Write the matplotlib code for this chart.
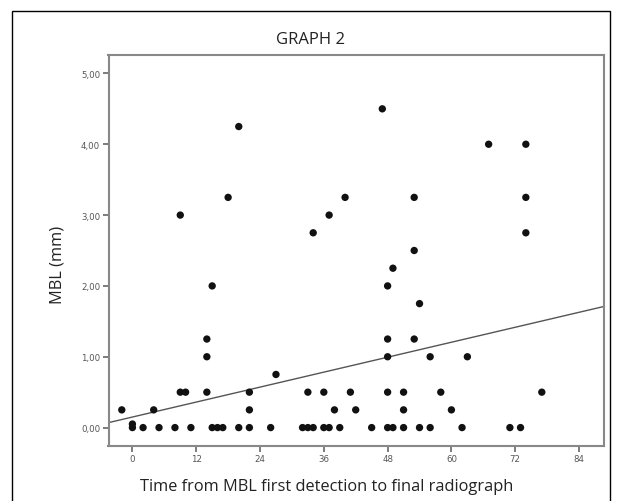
import matplotlib
matplotlib.use("Agg")
import matplotlib.pyplot as plt
from matplotlib.patches import Rectangle

# Data
time_months = [-2, 0, 0, 2, 4, 5, 8, 9, 10, 9, 11, 14, 14, 14, 15, 15, 16, 17, 18,
               20, 20, 22, 22, 22, 26, 27, 32, 33, 33, 34, 34, 36, 36, 37, 37, 38,
               39, 40, 41, 42, 45, 47, 48, 48, 48, 48, 48, 49, 49, 51, 51, 51, 53,
               53, 53, 54, 54, 56, 56, 58, 60, 62, 63, 67, 71, 73, 74, 74, 74, 77]
mbl_mm = [0.25, 0.05, 0.0, 0.0, 0.25, 0.0, 0.0, 0.5, 0.5, 3.0, 0.0, 1.25, 1.0, 0.5,
          2.0, 0.0, 0.0, 0.0, 3.25, 4.25, 0.0, 0.5, 0.25, 0.0, 0.0, 0.75, 0.0, 0.0,
          0.5, 0.0, 2.75, 0.5, 0.0, 0.0, 3.0, 0.25, 0.0, 3.25, 0.5, 0.25, 0.0, 4.5,
          2.0, 1.25, 1.0, 0.5, 0.0, 2.25, 0.0, 0.5, 0.25, 0.0, 3.25, 2.5, 1.25, 1.75,
          0.0, 1.0, 0.0, 0.5, 0.25, 0.0, 1.0, 4.0, 0.0, 0.0, 4.0, 3.25, 2.75, 0.5]

# Fit line
fit_intercept = 0.149
fit_slope = 0.0176

x_ticks = [0, 12, 24, 36, 48, 60, 72, 84]
y_ticks = [0, 1, 2, 3, 4, 5]
y_tick_labels = ["0,00", "1,00", "2,00", "3,00", "4,00", "5,00"]

title = "GRAPH 2"
x_label = "Time from MBL first detection to final radiograph"
y_label = "MBL (mm)"

W, H = 621, 502
fig = plt.figure(figsize=(W / 100, H / 100), dpi=100)
font = ["Open Sans", "DejaVu Sans"]

# outer border
fig.patches.append(Rectangle((12 / W, -0.05), (610 - 12) / W, 1.05 - 12 / H,
                             transform=fig.transFigure, fill=False,
                             edgecolor="black", linewidth=1.0))

left, right, top, bottom = 108.5, 604, 56, 447
ax = fig.add_axes([left / W, 1 - bottom / H, (right - left) / W, (bottom - top) / H])

xmin, xmax = -4.5, 88.7
ymin, ymax = -0.26, 5.26
ax.set_xlim(xmin, xmax)
ax.set_ylim(ymin, ymax)

ax.scatter(time_months, mbl_mm, s=28, color="#111111", edgecolors="none", zorder=3)
ax.plot([xmin, xmax], [fit_intercept + fit_slope * xmin, fit_intercept + fit_slope * xmax],
        color="#555555", linewidth=1.0, zorder=2)

ax.set_xticks(x_ticks)
ax.set_xticklabels([str(t) for t in x_ticks])
ax.set_yticks(y_ticks)
ax.set_yticklabels(y_tick_labels)
ax.tick_params(axis="both", direction="out", length=4, width=1.2, color="#666666",
               labelsize=6.2, labelcolor="#555555", pad=2)
for s in ax.spines.values():
    s.set_color("#888888")
    s.set_linewidth(1.5)

fig.text(310 / W, 1 - 40 / H, title, ha="center", va="center", fontsize=12,
         family=font, color="#222222")
fig.text(327 / W, 1 - 487 / H, x_label, ha="center", va="center", fontsize=11.8,
         family=font, color="#222222")
fig.text(58 / W, 1 - 265 / H, y_label, ha="center", va="center", fontsize=11.8,
         rotation=90, family=font, color="#222222")

fig.savefig("out.png", dpi=100)
